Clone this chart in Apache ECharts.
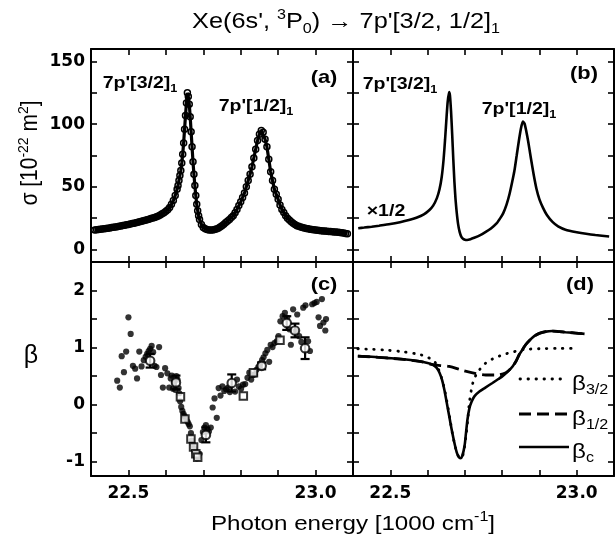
<!DOCTYPE html>
<html>
<head>
<meta charset="utf-8">
<script src="https://cdn.jsdelivr.net/npm/echarts@6/dist/echarts.min.js"></script>
<style>
  html, body { margin: 0; padding: 0; background: #fff; }
  #chart { width: 616px; height: 538px; }
</style>
</head>
<body>
<div id="chart"></div>
<script>
// ---- photon energy axis (1000 cm^-1) ----
const energyTicks = [22.5, 22.6, 22.7, 22.8, 22.9, 23.0];
const energyLabels = [22.5, 23.0];

// ---- cross section axis (10^-22 m^2) ----
const sigmaTicks = [0, 25, 50, 75, 100, 125, 150];
const sigmaLabels = [0, 50, 100, 150];

// ---- anisotropy parameter axis ----
const betaTicks = [-1, -0.5, 0, 0.5, 1, 1.5, 2];
const betaLabels = [-1, 0, 1, 2];

// (a) measured cross section: [energy, sigma]
const sigmaMeasured = [
  [22.410,15.5],[22.415,15.8],[22.420,16.0],[22.425,16.1],[22.430,16.4],[22.435,16.5],
  [22.440,16.8],[22.445,17.0],[22.450,17.2],[22.455,17.5],[22.460,17.7],[22.465,17.9],
  [22.470,18.2],[22.475,18.5],[22.480,18.8],[22.485,19.1],[22.490,19.4],[22.495,19.7],
  [22.500,20.0],[22.505,20.4],[22.510,20.7],[22.515,21.0],[22.520,21.4],[22.525,21.8],
  [22.530,22.2],[22.535,22.6],[22.540,23.0],[22.545,23.4],[22.550,23.8],[22.555,24.2],
  [22.560,24.7],[22.565,25.1],[22.570,25.6],[22.575,26.2],[22.580,26.8],[22.585,27.6],
  [22.590,28.5],[22.595,29.4],[22.600,30.5],[22.605,31.8],[22.610,33.5],[22.615,36.0],
  [22.620,39.0],[22.625,43.0],[22.630,48.0],[22.6325,51],[22.635,55],[22.6375,59],
  [22.640,63],[22.6425,69],[22.645,76],[22.6475,85],[22.650,96],[22.6525,107],
  [22.655,117],[22.6575,125],[22.660,122],[22.6625,116],[22.665,106],[22.6675,94],
  [22.670,82],[22.6725,70],[22.675,60],[22.6775,51],[22.680,43],[22.6825,36],
  [22.685,31],[22.6875,27],[22.690,24],[22.695,20],[22.700,17.5],[22.705,16.6],
  [22.710,16.0],[22.715,15.6],[22.720,15.5],[22.725,15.6],[22.730,16.0],[22.735,16.4],
  [22.740,17.0],[22.745,17.9],[22.750,19.0],[22.755,20.2],[22.760,21.5],[22.765,22.7],
  [22.770,24.0],[22.775,25.5],[22.780,27.0],[22.785,29.3],[22.790,32.0],[22.795,35],
  [22.800,38],[22.805,41.5],[22.810,45],[22.815,50],[22.820,55],[22.825,60],
  [22.830,66],[22.835,73],[22.840,80],[22.845,87],[22.850,92],[22.855,95],
  [22.860,93.5],[22.865,88],[22.870,82],[22.875,72],[22.880,62],[22.885,55],
  [22.890,48],[22.895,44],[22.900,40],[22.905,35.5],[22.910,32],[22.915,29.5],
  [22.920,27],[22.925,25],[22.930,23.5],[22.935,22.2],[22.940,21],[22.945,20],
  [22.950,19],[22.955,18.5],[22.960,18],[22.965,17.6],[22.970,17.2],[22.975,16.8],
  [22.980,16.5],[22.985,16.2],[22.990,16.0],[22.995,15.7],[23.000,15.5],[23.005,15.3],
  [23.010,15.1],[23.015,15.0],[23.020,14.8],[23.025,14.7],[23.030,14.5],[23.035,14.4],
  [23.040,14.3],[23.045,14.1],[23.050,14.0],[23.055,13.9],[23.060,13.8],[23.065,13.6],
  [23.070,13.3],[23.075,13.1],[23.080,12.8],[23.085,12.6]
];

// (b) calculated cross section: [energy, sigma]
const sigmaCalculated = [
  [22.414,17.0],[22.430,17.5],[22.450,18.2],[22.470,19.0],[22.500,20.3],[22.526,21.8],
  [22.550,23.5],[22.570,25.3],[22.590,28.0],[22.605,31.5],[22.615,35],[22.625,41],
  [22.632,48],[22.638,58],[22.643,72],[22.647,88],[22.651,106],[22.654,118],
  [22.6576,125.7],[22.660,123],[22.663,110],[22.666,92],[22.669,72],[22.672,54],
  [22.675,40],[22.678,30],[22.682,20],[22.686,14],[22.690,10.5],[22.695,8.5],
  [22.700,7.8],[22.706,7.6],[22.715,8.2],[22.725,9.3],[22.740,11.2],[22.755,13.8],
  [22.770,16.8],[22.785,20.8],[22.795,25],[22.803,29],[22.812,36],[22.820,44.5],
  [22.827,54],[22.833,63],[22.839,75],[22.845,87],[22.850,96],[22.8555,102],
  [22.860,100.5],[22.865,94],[22.870,86],[22.877,73],[22.885,59],[22.892,48.5],
  [22.900,40],[22.910,33],[22.920,27.5],[22.935,22],[22.950,18.5],[22.970,15.8],
  [23.000,13.8],[23.025,12.5],[23.050,11.5],[23.087,10.4]
];

// (c) measured beta, single scans: [energy, beta]
const betaScan = [
  [22.470,0.42],[22.477,0.30],[22.482,0.85],[22.488,0.57],[22.494,0.93],[22.500,1.53],
  [22.506,1.24],[22.512,0.68],[22.518,0.63],[22.523,0.46],[22.529,0.93],[22.535,0.67],
  [22.541,0.78],[22.546,0.84],[22.550,0.89],[22.554,0.94],[22.558,0.98],[22.562,1.03],
  [22.566,0.92],[22.570,0.68],[22.575,0.66],[22.582,1.01],[22.587,0.52],[22.592,0.30],
  [22.598,0.64],[22.604,0.55],[22.609,0.30],[22.613,0.46],[22.616,0.51],[22.619,0.28],
  [22.622,0.40],[22.625,0.26],[22.628,0.50],[22.631,0.44],[22.634,0.29],[22.636,0.20],
  [22.638,0.06],[22.641,-0.04],[22.644,-0.11],[22.647,-0.16],[22.650,-0.20],[22.654,-0.25],
  [22.658,-0.30],[22.661,-0.34],[22.664,-0.38],[22.667,-0.50],[22.669,-0.63],[22.672,-0.70],
  [22.675,-0.77],[22.677,-0.84],[22.680,-0.90],[22.683,-0.94],[22.686,-0.92],[22.690,-0.86],
  [22.695,-0.62],[22.699,-0.48],[22.703,-0.40],[22.707,-0.36],[22.711,-0.44],[22.715,-0.47],
  [22.720,-0.40],[22.725,-0.05],[22.730,0.11],[22.736,-0.23],[22.741,0.29],[22.746,0.16],
  [22.751,0.32],[22.756,0.24],[22.761,0.27],[22.766,0.30],[22.771,0.22],[22.785,0.23],
  [22.790,0.44],[22.795,0.32],[22.801,0.28],[22.806,0.35],[22.812,0.36],[22.818,0.47],
  [22.823,0.56],[22.828,0.44],[22.833,0.52],[22.838,0.53],[22.842,0.61],[22.847,0.66],
  [22.852,0.72],[22.857,0.78],[22.861,0.83],[22.866,0.90],[22.871,0.96],[22.876,0.75],
  [22.880,1.05],[22.885,1.01],[22.890,1.08],[22.896,1.11],[22.901,1.20],[22.906,1.46],
  [22.912,1.55],[22.918,1.61],[22.924,1.52],[22.930,1.32],[22.934,1.05],[22.940,1.67],
  [22.947,1.29],[22.951,1.58],[22.956,1.20],[22.962,1.10],[22.967,1.70],[22.973,1.74],
  [22.980,1.11],[22.985,0.94],[22.991,1.76],[22.997,1.78],[23.003,1.80],[23.008,1.53],
  [23.012,1.38],[23.017,1.85],[23.021,1.44],[23.026,1.30],[23.028,1.50]
];

// (c) averaged beta with uncertainty: [energy, beta, error]
const betaAveraged = [
  [22.558,0.77,0.12],[22.627,0.39,0.12],[22.707,-0.53,0.13],[22.776,0.38,0.15],
  [22.856,0.68,0.06],[22.923,1.43,0.12],[22.945,1.30,0.12],[22.972,0.99,0.19]
];

// (c) beta from fixed-wavelength runs: [energy, beta]
const betaFixed = [
  [22.639,0.14],[22.651,-0.25],[22.667,-0.60],[22.674,-0.74],[22.680,-0.86],
  [22.685,-0.92],[22.807,0.15],[22.834,0.56],[22.905,1.13]
];

// (d) calculated beta curves: [energy, beta]
const betaCoherent = [
  [22.413,0.85],[22.450,0.84],[22.489,0.82],[22.530,0.80],[22.578,0.76],[22.600,0.73],
  [22.614,0.70],[22.624,0.65],[22.632,0.56],[22.639,0.43],[22.645,0.26],[22.651,0.05],
  [22.658,-0.20],[22.665,-0.45],[22.672,-0.67],[22.678,-0.83],[22.683,-0.91],[22.688,-0.94],
  [22.693,-0.90],[22.699,-0.73],[22.703,-0.50],[22.707,-0.26],[22.712,-0.07],[22.718,0.05],
  [22.726,0.15],[22.739,0.23],[22.755,0.30],[22.774,0.38],[22.790,0.45],[22.801,0.50],
  [22.815,0.58],[22.828,0.67],[22.838,0.77],[22.846,0.88],[22.855,0.97],[22.863,1.05],
  [22.874,1.13],[22.886,1.20],[22.900,1.25],[22.917,1.28],[22.935,1.29],[22.953,1.28],
  [22.970,1.27],[22.988,1.26],[23.005,1.25],[23.021,1.24]
];
const beta32 = [
  [22.413,0.98],[22.450,0.97],[22.489,0.955],[22.530,0.93],[22.578,0.88],[22.600,0.83],
  [22.618,0.76],[22.628,0.64],[22.636,0.50],[22.645,0.28],[22.652,0.05],[22.660,-0.25],
  [22.667,-0.52],[22.674,-0.73],[22.680,-0.86],[22.686,-0.93],[22.691,-0.93],[22.697,-0.82],
  [22.703,-0.55],[22.708,-0.25],[22.712,0.03],[22.718,0.28],[22.724,0.44],[22.730,0.52],
  [22.739,0.61],[22.756,0.73],[22.774,0.80],[22.792,0.85],[22.810,0.89],[22.828,0.92],
  [22.845,0.95],[22.863,0.97],[22.900,0.98],[22.950,0.985],[23.000,0.985]
];
const beta12 = [
  [22.413,0.85],[22.489,0.82],[22.578,0.76],[22.614,0.70],[22.635,0.685],[22.658,0.67],
  [22.694,0.60],[22.730,0.545],[22.756,0.52],[22.783,0.52],[22.810,0.56],[22.828,0.67],
  [22.838,0.77],[22.846,0.88],[22.855,0.97],[22.863,1.05],[22.874,1.13],[22.886,1.20],
  [22.900,1.25],[22.917,1.28],[22.935,1.29],[22.953,1.28],[22.970,1.27],[22.988,1.26],
  [23.005,1.25],[23.021,1.24]
];

const INK = '#000';
const TICK_FONT = { fontFamily: 'DejaVu Sans', fontWeight: 'bold', fontSize: 17, color: INK };

const grids = [
  { left: 91,  top: 49,  width: 262, height: 213 },
  { left: 353, top: 49,  width: 261, height: 213 },
  { left: 91,  top: 262, width: 262, height: 214 },
  { left: 353, top: 262, width: 261, height: 214 }
];

function frameAxis(kind, gridIndex, position, range, ticks, labels, showLabels) {
  return {
    type: 'value',
    gridIndex,
    position,
    min: range[0],
    max: range[1],
    axisLine: { show: true, onZero: false, lineStyle: { color: INK, width: 2 } },
    axisTick: { show: true, inside: true, length: 6, customValues: ticks,
                lineStyle: { color: INK, width: 1.6 } },
    axisLabel: Object.assign({
      show: showLabels,
      customValues: labels,
      margin: kind === 'x' ? 9 : 6,
      formatter: v => kind === 'x' ? v.toFixed(1) : String(Math.round(v))
    }, TICK_FONT),
    splitLine: { show: false },
    minorTick: { show: false }
  };
}

const energyRange = [22.4, 23.1];
const sigmaRange = [-10, 160];
const betaRange = [-1.25, 2.5];

const xAxes = [];
const yAxes = [];
grids.forEach((g, i) => {
  const bottomRow = i >= 2;
  const leftCol = i % 2 === 0;
  xAxes.push(frameAxis('x', i, 'bottom', energyRange, energyTicks, energyLabels, bottomRow));
  xAxes.push(frameAxis('x', i, 'top', energyRange, energyTicks, energyLabels, false));
  const yr = bottomRow ? betaRange : sigmaRange;
  const yt = bottomRow ? betaTicks : sigmaTicks;
  const yl = bottomRow ? betaLabels : sigmaLabels;
  yAxes.push(frameAxis('y', i, 'left', yr, yt, yl, leftCol));
  yAxes.push(frameAxis('y', i, 'right', yr, yt, yl, false));
});

// error bars with caps, drawn through the axis scales
function errorBarItem(params, api) {
  const x = api.value(0);
  const lo = api.coord([x, api.value(1)]);
  const hi = api.coord([x, api.value(2)]);
  const cap = 4.5;
  const st = { stroke: INK, lineWidth: 2.2 };
  return {
    type: 'group',
    children: [
      { type: 'line', shape: { x1: lo[0], y1: lo[1], x2: hi[0], y2: hi[1] }, style: st },
      { type: 'line', shape: { x1: lo[0] - cap, y1: lo[1], x2: lo[0] + cap, y2: lo[1] }, style: st },
      { type: 'line', shape: { x1: hi[0] - cap, y1: hi[1], x2: hi[0] + cap, y2: hi[1] }, style: st }
    ]
  };
}

const dotted = [0.5, 7.5];
const dashed = [12, 6];

const series = [
  // (a) measured points on top of a connecting trace
  {
    type: 'line', xAxisIndex: 0, yAxisIndex: 0, data: sigmaMeasured,
    symbol: 'circle', symbolSize: 6, showSymbol: true,
    lineStyle: { color: INK, width: 3.2 },
    itemStyle: { color: 'rgba(255,255,255,0)', borderColor: INK, borderWidth: 1.5 },
    z: 3
  },
  // (b)
  {
    type: 'line', xAxisIndex: 2, yAxisIndex: 2, data: sigmaCalculated,
    showSymbol: false, smooth: 0.2, lineStyle: { color: INK, width: 2.6 }
  },
  // (c)
  {
    type: 'scatter', xAxisIndex: 4, yAxisIndex: 4, data: betaScan,
    symbol: 'circle', symbolSize: 6.2, itemStyle: { color: INK }, z: 2
  },
  {
    type: 'custom', xAxisIndex: 4, yAxisIndex: 4,
    data: betaAveraged.map(d => [d[0], d[1] - d[2], d[1] + d[2]]),
    renderItem: errorBarItem, z: 3
  },
  {
    type: 'scatter', xAxisIndex: 4, yAxisIndex: 4, data: betaFixed,
    symbol: 'rect', symbolSize: 7.5,
    itemStyle: { color: '#fff', borderColor: INK, borderWidth: 2 }, z: 4
  },
  {
    type: 'scatter', xAxisIndex: 4, yAxisIndex: 4,
    data: betaAveraged.map(d => [d[0], d[1]]),
    symbol: 'circle', symbolSize: 8.5,
    itemStyle: { color: '#fff', borderColor: INK, borderWidth: 2.1 }, z: 5
  },
  // (d)
  {
    type: 'line', xAxisIndex: 6, yAxisIndex: 6, data: beta32, showSymbol: false, smooth: 0.3,
    lineStyle: { color: INK, width: 2.8, type: dotted, cap: 'round' }
  },
  {
    type: 'line', xAxisIndex: 6, yAxisIndex: 6, data: beta12, showSymbol: false, smooth: 0.3,
    lineStyle: { color: INK, width: 2.8, type: dashed }
  },
  {
    type: 'line', xAxisIndex: 6, yAxisIndex: 6, data: betaCoherent, showSymbol: false, smooth: 0.3,
    lineStyle: { color: INK, width: 2.6 }
  }
];

// ---- text ----
const SANS = 'Liberation Sans';
function label(x, y, text, rich, opts) {
  return Object.assign({
    type: 'text', x, y, scaleX: 1.15, z: 100,
    style: { text, rich, fill: INK, align: 'center', verticalAlign: 'middle' }
  }, opts || {});
}
function leftLabel(x, y, text, rich) {
  return {
    type: 'text', x, y, scaleX: 1.15, z: 100,
    style: { text, rich, fill: INK, align: 'left', verticalAlign: 'middle' }
  };
}
const boldRich = {
  b: { fontFamily: SANS, fontWeight: 'bold', fontSize: 17, lineHeight: 22, color: INK },
  s: { fontFamily: SANS, fontWeight: 'bold', fontSize: 11, lineHeight: 10, verticalAlign: 'bottom', color: INK }
};
const tagRich = {
  b: { fontFamily: SANS, fontWeight: 'bold', fontSize: 19, lineHeight: 24, color: INK }
};
const titleRich = {
  t: { fontFamily: SANS, fontSize: 22, lineHeight: 28, color: INK },
  p: { fontFamily: SANS, fontSize: 14, lineHeight: 14, verticalAlign: 'top', color: INK },
  q: { fontFamily: SANS, fontSize: 14, lineHeight: 12, verticalAlign: 'bottom', color: INK }
};
const axisNameRich = {
  t: { fontFamily: SANS, fontSize: 21, lineHeight: 28, color: INK },
  p: { fontFamily: SANS, fontSize: 14, lineHeight: 14, verticalAlign: 'top', color: INK }
};
const betaRich = {
  b: { fontFamily: SANS, fontSize: 21, lineHeight: 26, color: INK },
  s: { fontFamily: SANS, fontSize: 14, lineHeight: 12, verticalAlign: 'bottom', color: INK }
};

const graphic = [
  label(346, 22, "{t|Xe(6s', }{p|3}{t|P}{q|0}{t|) \u2192 7p'[3/2, 1/2]}{q|1}", titleRich),
  label(353, 524, '{t|Photon energy [1000 cm}{p|-1}{t|]}', axisNameRich),
  label(31, 153, '{t|\u03c3 [10}{p|-22}{t| m}{p|2}{t|]}', axisNameRich, { rotation: Math.PI / 2, scaleX: 1, scaleY: 1.1 }),
  label(31, 356, '{t|\u03b2}', { t: { fontFamily: SANS, fontSize: 25, lineHeight: 28, color: INK } }, { scaleX: 1 }),

  label(140, 83, "{b|7p'[3/2]}{s|1}", boldRich),
  label(256, 106, "{b|7p'[1/2]}{s|1}", boldRich),
  label(324, 78, '{b|(a)}', tagRich),
  label(400, 84, "{b|7p'[3/2]}{s|1}", boldRich),
  label(519, 109, "{b|7p'[1/2]}{s|1}", boldRich),
  label(584, 74, '{b|(b)}', tagRich),
  label(386, 211, '{b|\u00d71/2}', boldRich),
  label(324, 285, '{b|(c)}', tagRich),
  label(580, 285, '{b|(d)}', tagRich),

  // key for panel (d)
  { type: 'line', z: 100, shape: { x1: 520, y1: 379, x2: 566, y2: 379 },
    style: { stroke: INK, lineWidth: 2.8, lineDash: dotted, lineCap: 'round' } },
  { type: 'line', z: 100, shape: { x1: 519, y1: 414, x2: 568, y2: 414 },
    style: { stroke: INK, lineWidth: 2.8, lineDash: dashed } },
  { type: 'line', z: 100, shape: { x1: 519, y1: 447, x2: 569, y2: 447 },
    style: { stroke: INK, lineWidth: 2.6 } },
  leftLabel(572, 384, '{b|\u03b2}{s|3/2}', betaRich),
  leftLabel(572, 419, '{b|\u03b2}{s|1/2}', betaRich),
  leftLabel(572, 452, '{b|\u03b2}{s|c}', betaRich)
];

const chart = echarts.init(document.getElementById('chart'), null, { renderer: 'canvas' });
chart.setOption({
  animation: false,
  backgroundColor: '#fff',
  grid: grids,
  xAxis: xAxes,
  yAxis: yAxes,
  series,
  graphic
});
</script>
</body>
</html>
